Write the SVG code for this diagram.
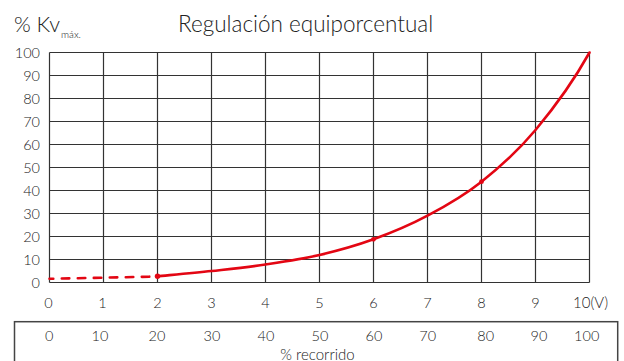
<svg xmlns="http://www.w3.org/2000/svg" width="624" height="361" viewBox="0 0 624 361">
<style>
text{font-family:Lato,"Open Sans","Liberation Sans",sans-serif;font-weight:300;fill:#222}
.t{font-size:22.5px}
.sub{font-size:10px}
.n{font-size:14.5px}
.ya{text-anchor:end}
.c{text-anchor:middle}
.g{stroke:#333;stroke-width:1.2;fill:none}
.curve{stroke:#e30613;stroke-width:2.6;fill:none;stroke-linecap:round}
.dot{fill:#e30613}
</style>
<rect width="624" height="361" fill="#fff"/>
<g id="title">
<text class="t" x="14" y="31.7" style="font-size:21.5px">% Kv</text>
<text class="sub" x="61" y="38.3">máx.</text>
<text class="t" x="178" y="31.7">Regulación equiporcentual</text>
</g>
<g id="grid" class="g">
<path d="M49.5 52.5H589.5M49.5 75.5H589.5M49.5 98.5H589.5M49.5 121.5H589.5M49.5 144.5H589.5M49.5 167.5H589.5M49.5 190.5H589.5M49.5 213.5H589.5M49.5 236.5H589.5M49.5 259.5H589.5M49.5 282.5H589.5"/>
<path d="M49.5 52.5V282.5M103.5 52.5V282.5M157.5 52.5V282.5M211.5 52.5V282.5M265.5 52.5V282.5M319.5 52.5V282.5M373.5 52.5V282.5M427.5 52.5V282.5M481.5 52.5V282.5M535.5 52.5V282.5M589.5 52.5V282.5"/>
</g>
<g id="y-labels">
<text class="n ya" x="40" y="57.5">100</text>
<text class="n ya" x="40" y="80.5">90</text>
<text class="n ya" x="40" y="103.5">80</text>
<text class="n ya" x="40" y="126.5">70</text>
<text class="n ya" x="40" y="149.5">60</text>
<text class="n ya" x="40" y="172.5">50</text>
<text class="n ya" x="40" y="195.5">40</text>
<text class="n ya" x="40" y="218.5">30</text>
<text class="n ya" x="40" y="241.5">20</text>
<text class="n ya" x="40" y="264.5">10</text>
<text class="n ya" x="40" y="287.5">0</text>
</g>
<g id="x-labels">
<text class="n c" x="48.5" y="307.5">0</text>
<text class="n c" x="102.5" y="307.5">1</text>
<text class="n c" x="157.5" y="307.5">2</text>
<text class="n c" x="211.5" y="307.5">3</text>
<text class="n c" x="265.5" y="307.5">4</text>
<text class="n c" x="319.5" y="307.5">5</text>
<text class="n c" x="373.5" y="307.5">6</text>
<text class="n c" x="427.5" y="307.5">7</text>
<text class="n c" x="481.5" y="307.5">8</text>
<text class="n c" x="535.5" y="307.5">9</text>
<text class="n" x="573" y="307.5" style="font-size:15px">10(V)</text>
</g>
<g id="connectors">
<path class="curve" stroke-dasharray="7.5 8.5" stroke-dashoffset="3.7" stroke-linecap="butt" stroke-width="3" d="M49.5 278.8L157.5 276.5"/>
<path class="curve" d="M157.5 276.3C166.5 275.4 193.5 273 211.5 271C229.5 269 247.5 267.2 265.5 264.5C283.5 261.8 301.5 259.2 319.5 255C337.5 250.8 355.5 245.85 373.5 239.3C391.5 232.75 409.5 225.3 427.5 215.7C445.5 206.1 463.5 195.98 481.5 181.7C499.5 167.42 517.5 151.53 535.5 130C553.5 108.47 574.5 79.5 589.5 52.5"/>
<circle class="dot" cx="157.5" cy="276.3" r="2.7"/>
<circle class="dot" cx="373.5" cy="239.3" r="2.4"/>
<circle class="dot" cx="481.5" cy="181.7" r="2.4"/>
</g>
<g id="travel-box">
<rect x="14.5" y="321.7" width="603.2" height="60" fill="none" stroke="#444" stroke-width="1.5"/>
<text class="n c" x="49.3" y="340.7">0</text>
<text class="n c" x="100" y="340.7">10</text>
<text class="n c" x="157" y="340.7">20</text>
<text class="n c" x="212" y="340.7">30</text>
<text class="n c" x="266" y="340.7">40</text>
<text class="n c" x="320" y="340.7">50</text>
<text class="n c" x="374" y="340.7">60</text>
<text class="n c" x="427.7" y="340.7">70</text>
<text class="n c" x="485.7" y="340.7">80</text>
<text class="n c" x="539" y="340.7">90</text>
<text class="n c" x="586.7" y="340.7">100</text>
<text class="c" x="317.5" y="359.5" style="font-size:15px">% recorrido</text>
</g>
</svg>
